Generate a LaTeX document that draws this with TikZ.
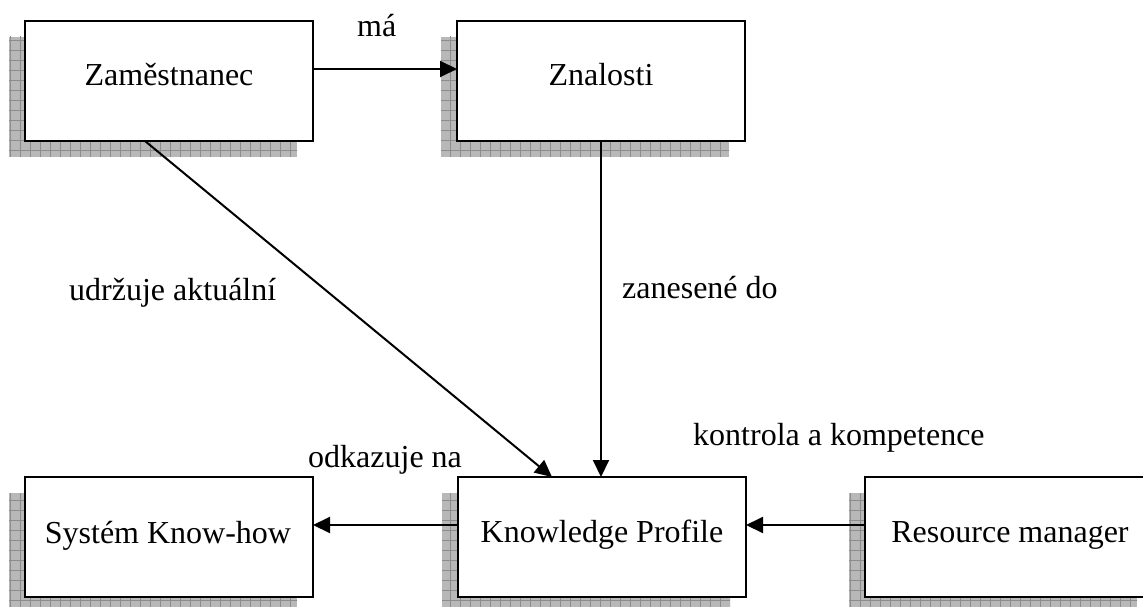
\documentclass[tikz,border=0pt]{standalone}
\usepackage{fontspec}
\setmainfont{Liberation Serif}
\usetikzlibrary{arrows.meta,backgrounds,calc}
\definecolor{shadowfill}{RGB}{184,184,184}
\definecolor{shadowgrid}{RGB}{140,140,140}
\tikzset{
  box/.style={draw=black, line width=2.4pt, fill=white, minimum width=288pt, minimum height=120pt, inner sep=0pt, outer sep=0pt},
  boxtext/.style={inner sep=0pt, anchor=base, font=\fontsize{32}{38}\selectfont},
  lbl/.style={inner sep=0pt, anchor=base west, font=\fontsize{32}{38}\selectfont},
  arr/.style={draw=black, line width=2pt, -{Triangle[length=17pt,width=16pt]}},
}
\newcommand{\dropshadow}[1]{%
  \begin{scope}
    \clip ($(#1.north west)+(-16,16)$) rectangle ($(#1.south east)+(-16,16)$);
    \fill[shadowfill] ($(#1.north west)+(-16,16)$) rectangle ($(#1.south east)+(-16,16)$);
    \draw[shadowgrid, line width=0.8pt, step=10pt] ($(#1.north west)+(-30,0)$) grid ($(#1.south east)+(0,30)$);
  \end{scope}}
\begin{document}
\begin{tikzpicture}[x=1pt, y=-1pt]
\useasboundingbox (0,0) rectangle (1143,607);
\clip (0,0) rectangle (1143,607);
% boxes
\node[box] (Z) at (169,81) {};
\node[box] (Zn) at (601,81) {};
\node[box] (S) at (169,537) {};
\node[box] (KP) at (602,537) {};
\node[box] (RM) at (1009,537) {};
% box texts
\node[boxtext] (tZ) at (169,86) {Zaměstnanec};
\node[boxtext] (tZn) at (601,86) {Znalosti};
\node[boxtext] (tS) at (168,543) {Systém Know-how};
\node[boxtext] (tKP) at (602,542) {Knowledge Profile};
\node[boxtext] (tRM) at (1010,542) {Resource manager};
% shadows
\begin{scope}[on background layer]
  \fill[white] (0,0) rectangle (1143,607);
  \dropshadow{Z}
  \dropshadow{Zn}
  \dropshadow{S}
  \dropshadow{KP}
  \dropshadow{RM}
\end{scope}
% connectors
\draw[arr] ([yshift=12pt]Z.east) -- ([yshift=12pt]Zn.west);
\draw[arr] (Zn.south) -- (Zn.south |- KP.north);
\draw[arr] ([xshift=-24pt]Z.south) -- ([xshift=-50pt]KP.north);
\draw[arr] ([yshift=12pt]KP.west) -- ([yshift=12pt]S.east);
\draw[arr] ([yshift=12pt]RM.west) -- ([yshift=12pt]KP.east);
% labels
\node[lbl] (lma) at (357,37) {má};
\node[lbl] (lud) at (69,300) {udržuje aktuální};
\node[lbl] (lza) at (622,298) {zanesené do};
\node[lbl] (lko) at (693,445) {kontrola a kompetence};
\node[lbl] (lod) at (308,467) {odkazuje na};
\end{tikzpicture}
\end{document}
